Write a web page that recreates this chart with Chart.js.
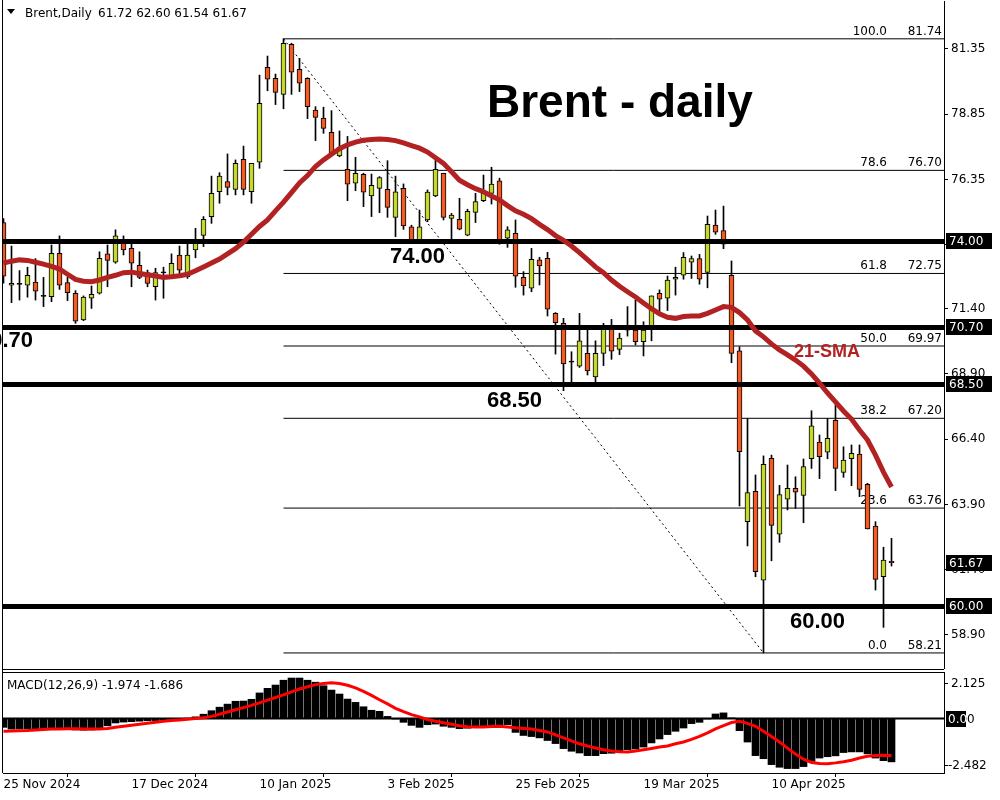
<!DOCTYPE html>
<html>
<head>
<meta charset="utf-8">
<script src="https://cdn.jsdelivr.net/npm/chart.js@4.4.1/dist/chart.umd.min.js"></script>
<style>
  body { margin: 0; background: #fff; width: 1000px; height: 800px; overflow: hidden; position: relative; }
  #main { position: absolute; left: 0; top: 0; }
  #macd { position: absolute; left: 0; top: 670px; }
</style>
</head>
<body>
<canvas id="main" width="1000" height="670"></canvas>
<canvas id="macd" width="1000" height="130"></canvas>
<script>
// --- data (bar 0 = 25 Nov 2024) ---
const dateLabels = ['25 Nov 2024', '17 Dec 2024', '10 Jan 2025', '3 Feb 2025', '25 Feb 2025', '19 Mar 2025', '10 Apr 2025'];
const dateIdx = [0, 16, 32, 48, 64, 80, 96];

const opens = [74.70,72.30,72.35,72.30,72.42,71.89,71.86,73.52,72.40,71.99,70.97,71.80,71.99,73.50,73.18,73.97,
  73.71,73.06,72.78,72.24,72.79,72.63,73.45,72.63,73.65,74.21,74.93,75.88,76.27,75.97,77.12,75.88,
  77.01,80.65,80.23,79.61,81.53,80.57,80.23,79.01,78.70,78.16,77.25,76.74,76.21,76.55,75.72,76.01,
  75.97,74.90,76.01,74.54,74.03,74.80,75.72,76.59,74.86,74.82,74.22,75.09,75.54,75.82,76.30,74.10,
  74.29,72.60,72.19,73.27,73.33,71.22,70.84,69.37,69.20,69.69,68.79,69.69,70.71,69.84,70.60,70.58,
  70.14,70.61,71.99,71.80,72.53,72.68,73.18,73.32,72.79,74.60,74.39,72.68,69.79,63.24,64.40,61.00,
  65.67,62.76,64.10,64.52,64.25,65.65,66.29,65.90,67.12,65.13,65.65,65.83,64.67,63.07,61.13,61.72];
const highs = [74.85,73.80,72.86,72.99,73.32,72.60,73.84,74.19,72.60,72.09,71.89,72.27,73.58,73.84,74.42,74.19,
  73.93,73.58,72.88,72.95,72.99,73.50,73.80,73.97,74.48,74.93,76.48,76.61,77.33,77.10,77.63,76.97,
  80.35,81.08,80.39,81.74,81.57,80.99,80.25,79.14,79.12,78.99,78.21,78.00,77.20,76.59,76.56,76.46,
  77.07,76.48,76.18,74.60,75.18,75.95,77.10,76.59,75.05,75.63,75.21,75.82,76.52,76.82,76.40,74.54,
  74.80,72.82,73.71,73.37,73.56,71.25,71.03,69.75,71.22,70.65,70.17,70.84,70.99,70.46,71.48,71.73,
  70.90,71.89,72.12,72.65,72.99,73.55,73.42,73.48,74.95,75.18,75.33,73.23,69.94,67.20,65.03,65.76,
  65.79,64.63,65.41,64.96,65.64,67.49,66.56,67.20,67.71,66.11,66.18,66.18,64.71,63.24,62.26,62.60];
const lows = [72.38,71.63,71.73,71.84,71.73,71.48,71.67,72.14,71.71,70.84,70.94,71.41,71.96,72.24,73.14,73.46,
  72.24,72.55,72.24,71.73,71.80,72.56,72.69,72.56,73.35,73.78,74.67,75.44,75.76,75.76,75.76,75.44,
  76.78,79.75,79.22,79.06,79.61,79.72,78.68,77.84,78.12,77.33,77.22,75.54,75.92,75.31,74.93,75.08,
  74.90,74.16,74.44,73.96,73.96,74.73,75.69,74.80,73.91,74.42,74.19,74.70,75.50,75.41,73.87,73.75,
  72.22,71.92,72.05,72.31,71.12,69.66,68.26,68.54,69.15,68.86,68.41,69.22,69.46,69.64,70.35,70.01,
  69.59,70.17,71.29,71.33,71.92,72.53,72.56,72.34,72.20,74.25,73.70,69.33,63.84,62.31,61.13,58.21,
  61.74,62.45,63.69,63.75,63.20,65.28,64.89,65.65,64.43,64.94,64.62,64.20,62.96,60.62,59.19,61.54];
const closes = [72.65,72.37,72.35,72.68,72.07,71.89,73.52,72.30,72.01,70.92,71.84,71.95,73.33,73.25,74.19,73.65,
  73.14,72.60,72.37,72.78,72.79,73.14,72.88,73.45,73.97,74.82,75.82,76.48,76.05,76.97,75.97,76.97,
  79.27,80.19,79.69,81.57,80.46,80.04,79.14,78.73,78.31,77.35,77.57,76.17,76.59,75.86,76.13,76.42,
  75.28,75.88,74.57,74.03,74.54,75.87,76.74,74.90,74.99,74.45,75.13,75.50,75.82,76.17,73.91,74.42,
  72.65,72.27,73.29,73.04,71.38,70.86,69.28,69.37,70.17,69.02,69.69,70.65,69.77,70.27,70.60,70.14,
  70.58,71.89,71.76,72.50,72.60,73.37,73.32,72.53,74.63,74.33,73.87,69.69,65.92,64.35,61.32,65.44,
  63.10,64.28,64.52,64.37,65.35,66.91,65.73,66.43,65.28,65.60,65.86,64.48,62.96,61.03,61.77,61.67];

const sma21 = [73.15,73.22,73.27,73.25,73.18,73.11,73.02,72.92,72.72,72.52,72.45,72.43,72.50,72.60,72.68,72.78,
  72.80,72.75,72.70,72.65,72.60,72.62,72.66,72.72,72.85,73.00,73.15,73.30,73.50,73.70,73.95,74.25,
  74.55,74.80,75.15,75.48,75.85,76.22,76.50,76.85,77.10,77.32,77.53,77.68,77.78,77.85,77.88,77.90,
  77.88,77.84,77.75,77.65,77.55,77.40,77.18,76.97,76.65,76.32,76.15,76.00,75.88,75.72,75.57,75.35,
  75.15,75.02,74.85,74.63,74.43,74.20,74.02,73.80,73.55,73.28,73.00,72.78,72.50,72.26,72.05,71.85,
  71.62,71.40,71.20,71.07,71.03,71.10,71.12,71.12,71.22,71.35,71.48,71.45,71.25,70.97,70.55,70.32,
  70.05,69.82,69.63,69.43,69.20,68.90,68.55,68.17,67.83,67.48,67.17,66.75,66.37,65.79,65.14,64.57];

const macdMain = [-0.40,-0.48,-0.47,-0.47,-0.47,-0.47,-0.46,-0.46,-0.50,-0.52,-0.53,-0.52,-0.50,-0.33,-0.20,-0.16,
  -0.14,-0.12,-0.10,-0.09,-0.07,-0.04,-0.02,0.02,0.08,0.20,0.36,0.52,0.66,0.79,0.80,0.88,
  1.17,1.38,1.53,1.75,1.85,1.85,1.75,1.66,1.50,1.30,1.12,0.89,0.74,0.54,0.38,0.33,
  0.10,-0.02,-0.17,-0.31,-0.40,-0.28,-0.25,-0.35,-0.40,-0.46,-0.44,-0.40,-0.36,-0.33,-0.28,-0.28,
  -0.63,-0.77,-0.82,-0.88,-1.00,-1.14,-1.37,-1.49,-1.57,-1.69,-1.69,-1.60,-1.58,-1.46,-1.42,-1.39,
  -1.30,-1.11,-0.93,-0.73,-0.58,-0.43,-0.23,-0.17,-0.02,0.21,0.26,0.03,-0.55,-1.07,-1.69,-1.83,
  -2.10,-2.22,-2.28,-2.28,-2.19,-1.95,-1.80,-1.74,-1.70,-1.55,-1.52,-1.52,-1.61,-1.80,-1.92,-1.974];
const macdSignal = [-0.58,-0.57,-0.55,-0.54,-0.52,-0.50,-0.48,-0.47,-0.46,-0.46,-0.47,-0.48,-0.48,-0.45,-0.40,-0.35,
  -0.30,-0.26,-0.21,-0.17,-0.12,-0.09,-0.06,-0.03,0.00,0.04,0.10,0.20,0.30,0.40,0.50,0.60,
  0.72,0.84,0.96,1.08,1.22,1.35,1.45,1.55,1.60,1.63,1.60,1.52,1.40,1.24,1.06,0.86,
  0.67,0.47,0.32,0.18,0.08,-0.04,-0.12,-0.19,-0.26,-0.33,-0.37,-0.38,-0.38,-0.36,-0.35,-0.38,
  -0.42,-0.45,-0.48,-0.54,-0.61,-0.74,-0.88,-1.02,-1.15,-1.25,-1.34,-1.42,-1.48,-1.51,-1.52,-1.48,
  -1.42,-1.36,-1.30,-1.25,-1.15,-1.07,-0.95,-0.81,-0.65,-0.47,-0.32,-0.18,-0.12,-0.22,-0.35,-0.58,
  -0.82,-1.07,-1.35,-1.62,-1.85,-2.00,-2.05,-2.06,-2.02,-1.97,-1.90,-1.80,-1.72,-1.68,-1.67,-1.686];

const priceTicks = [81.35, 78.85, 76.35, 73.85, 71.40, 68.90, 66.40, 63.90, 61.40, 58.90];
const levels = [74.00, 70.70, 68.50, 60.00];
const axisMarks = [74.00, 70.70, 68.50, 61.67, 60.00];
const fibRatios = ['100.0', '78.6', '61.8', '50.0', '38.2', '23.6', '0.0'];
const fibPrices = [81.74, 76.70, 72.75, 69.97, 67.20, 63.76, 58.21];
const fibHighBar = 35, fibLowBar = 95;
const ohlcText = '61.72 62.60 61.54 61.67';
const macdText = 'MACD(12,26,9) -1.974 -1.686';

// --- layout ---
const X_MIN = -0.0625, X_MAX = 117.5625;
const UP = '#c5d82e', DOWN = '#f15a22', SMA_RED = '#b22222';
const FONT = 'DejaVu Sans';

Chart.defaults.font.family = FONT;
Chart.defaults.font.size = 12;
Chart.defaults.color = '#000';

const idx = opens.map((_, i) => i);

// pin an axis to a fixed size and drop the label overflow padding chart.js adds
function pinWidth(w) {
  return scale => { scale.width = w; scale.paddingTop = 0; scale.paddingBottom = 0; };
}
function pinHeight(h) {
  return scale => { scale.height = h; scale.paddingLeft = 0; scale.paddingRight = 0; };
}

const mainLabels = {
  id: 'mainLabels',
  beforeDatasetsDraw(chart) {
    const { ctx, scales: { y } } = chart;
    ctx.save();
    ctx.font = '12px ' + FONT;
    ctx.fillStyle = '#000';
    ctx.textBaseline = 'alphabetic';
    fibPrices.forEach((p, k) => {
      const py = y.getPixelForValue(p);
      ctx.textAlign = 'right';
      ctx.fillText(fibRatios[k], 887, py - 4);
      ctx.fillText(p.toFixed(2), 942, py - 4);
    });
    ctx.restore();
  },
  beforeDatasetDraw(chart, args) {
    // thick support/resistance lines go above candles but under the SMA
    if (args.index !== 0) return;
    const { ctx, chartArea, scales: { y } } = chart;
    ctx.save();
    ctx.beginPath();
    ctx.rect(chartArea.left, chartArea.top, chartArea.right - chartArea.left, chartArea.bottom - chartArea.top);
    ctx.clip();
    ctx.fillStyle = '#000';
    levels.forEach(v => {
      const py = Math.round(y.getPixelForValue(v));
      ctx.fillRect(chartArea.left, py - 2, chartArea.right - chartArea.left, 5);
    });
    ctx.restore();
  },
  afterDraw(chart) {
    const { ctx, scales: { y } } = chart;
    ctx.save();
    // frame
    ctx.fillStyle = '#000';
    ctx.fillRect(2, 0, 1, 670);
    ctx.fillRect(2, 669, 942, 1);

    // header
    ctx.beginPath();
    ctx.moveTo(7, 9); ctx.lineTo(15, 9); ctx.lineTo(11, 14); ctx.closePath();
    ctx.fill();
    ctx.font = '12px ' + FONT;
    ctx.textAlign = 'left';
    ctx.fillText('Brent,Daily', 25, 17);
    ctx.fillText(ohlcText, 98, 17);

    // title
    ctx.font = 'bold 46px "Liberation Sans"';
    ctx.fillText('Brent - daily', 487, 117);

    // level captions
    ctx.font = 'bold 22px "Liberation Sans"';
    ctx.fillText('74.00', 390, 263);
    ctx.fillText('68.50', 487, 407);
    ctx.fillText('60.00', 790, 628);
    ctx.textAlign = 'right';
    ctx.fillText('70.70', 33, 347);

    ctx.textAlign = 'left';
    ctx.fillStyle = SMA_RED;
    ctx.font = 'bold 18px "Liberation Sans"';
    ctx.fillText('21-SMA', 794, 357);

    // price boxes on the axis
    ctx.font = '12px ' + FONT;
    ctx.textBaseline = 'middle';
    axisMarks.forEach(v => {
      const py = Math.round(y.getPixelForValue(v));
      ctx.fillStyle = '#000';
      ctx.fillRect(946, py - 8, 46, 16);
      ctx.fillStyle = '#fff';
      ctx.fillText(v.toFixed(2), 949, py + 1);
    });
    ctx.restore();
  }
};

const candleBodies = idx.map(i => {
  const o = opens[i], c = closes[i];
  return Math.abs(o - c) < 0.04 ? { x: i, y: [o - 0.02, o + 0.02] } : { x: i, y: [o, c] };
});
const bodyColors = idx.map(i => {
  const d = closes[i] - opens[i];
  if (Math.abs(d) < 0.04) return '#000';
  return d > 0 ? UP : DOWN;
});

const fibSets = fibPrices.map(p => ({
  type: 'line',
  data: [{ x: fibHighBar, y: p }, { x: X_MAX, y: p }],
  borderColor: '#000', borderWidth: 1, pointRadius: 0, order: 5
}));

new Chart(document.getElementById('main'), {
  data: {
    datasets: [
      {
        type: 'line',
        data: idx.map(i => ({ x: i, y: sma21[i] })),
        borderColor: SMA_RED, borderWidth: 5, pointRadius: 0, tension: 0, order: 0
      },
      {
        type: 'bar',
        data: candleBodies,
        backgroundColor: bodyColors, borderColor: '#000', borderWidth: 1, borderSkipped: false,
        barThickness: 5, grouped: false, order: 2
      },
      {
        type: 'bar',
        data: idx.map(i => ({ x: i, y: [lows[i], highs[i]] })),
        backgroundColor: '#000', borderWidth: 0, barThickness: 1, grouped: false, order: 3
      },
      {
        type: 'line',
        data: [{ x: fibHighBar, y: fibPrices[0] }, { x: fibLowBar, y: fibPrices[6] }],
        borderColor: '#000', borderWidth: 1, borderDash: [2, 3], pointRadius: 0, order: 4
      },
      ...fibSets
    ]
  },
  options: {
    responsive: false,
    animation: false,
    events: [],
    layout: { padding: { left: 3, top: 1, bottom: 2, right: 0 } },
    plugins: { legend: { display: false }, tooltip: { enabled: false } },
    scales: {
      x: { type: 'linear', min: X_MIN, max: X_MAX, offset: false, display: false },
      y: {
        type: 'linear', position: 'right', min: 57.633, max: 83.189,
        afterFit: pinWidth(56),
        afterBuildTicks: scale => { scale.ticks = priceTicks.map(v => ({ value: v })); },
        ticks: { callback: v => v.toFixed(2), padding: 3, autoSkip: false, color: '#000', font: { size: 12 } },
        grid: { drawOnChartArea: false, drawTicks: true, tickLength: 4, color: '#000' },
        border: { display: true, color: '#000', width: 1 }
      }
    }
  },
  plugins: [mainLabels]
});

const macdLabels = {
  id: 'macdLabels',
  afterDraw(chart) {
    const { ctx, chartArea, scales: { y } } = chart;
    ctx.save();
    ctx.fillStyle = '#000';
    ctx.fillRect(2, 0, 1, chartArea.bottom);
    ctx.fillRect(2, 2, 942, 1);

    ctx.font = '12px ' + FONT;
    ctx.textAlign = 'left';
    ctx.textBaseline = 'alphabetic';
    ctx.fillText(macdText, 7, 19);

    ctx.textBaseline = 'middle';
    const top = y.getPixelForValue(y.max), bot = y.getPixelForValue(y.min);
    ctx.fillRect(944, top + 11, 4, 1);
    ctx.fillRect(944, bot - 8, 4, 1);
    ctx.fillText(y.max.toFixed(3), 951, top + 12);
    ctx.fillText(y.min.toFixed(3), 948, bot - 7);

    const zy = Math.round(y.getPixelForValue(0));
    ctx.fillText('0.00', 948, zy + 1);
    ctx.fillRect(946, zy - 8, 20, 16);
    ctx.beginPath();
    ctx.rect(946, zy - 8, 20, 16);
    ctx.clip();
    ctx.fillStyle = '#fff';
    ctx.fillText('0.00', 948, zy + 1);
    ctx.restore();
  }
};

new Chart(document.getElementById('macd'), {
  data: {
    datasets: [
      {
        type: 'line',
        data: idx.map(i => ({ x: i, y: macdSignal[i] })),
        borderColor: '#ff0000', borderWidth: 3, pointRadius: 0, tension: 0, order: 0
      },
      {
        type: 'line',
        data: [{ x: X_MIN, y: 0 }, { x: X_MAX, y: 0 }],
        borderColor: '#000', borderWidth: 2, pointRadius: 0, order: 1
      },
      {
        type: 'bar',
        data: idx.map(i => ({ x: i, y: macdMain[i] })),
        backgroundColor: '#000', borderWidth: 0, barThickness: 7, grouped: false, order: 2
      }
    ]
  },
  options: {
    responsive: false,
    animation: false,
    events: [],
    layout: { padding: { left: 3, top: 2, bottom: 0, right: 0 } },
    plugins: { legend: { display: false }, tooltip: { enabled: false } },
    scales: {
      x: {
        type: 'linear', min: X_MIN, max: X_MAX, offset: false, position: 'bottom',
        afterFit: pinHeight(27),
        afterBuildTicks: scale => { scale.ticks = dateIdx.map(v => ({ value: v })); },
        ticks: {
          callback: v => dateLabels[dateIdx.indexOf(v)],
          align: 'start', maxRotation: 0, autoSkip: false, padding: 1, color: '#000', font: { size: 12 }
        },
        grid: { drawOnChartArea: false, drawTicks: true, tickLength: 4, color: '#000' },
        border: { display: true, color: '#000', width: 1 }
      },
      y: {
        type: 'linear', position: 'right', min: -2.482, max: 2.125,
        afterFit: pinWidth(56),
        ticks: { display: false },
        grid: { display: false },
        border: { display: true, color: '#000', width: 1 }
      }
    }
  },
  plugins: [macdLabels]
});
</script>
</body>
</html>
